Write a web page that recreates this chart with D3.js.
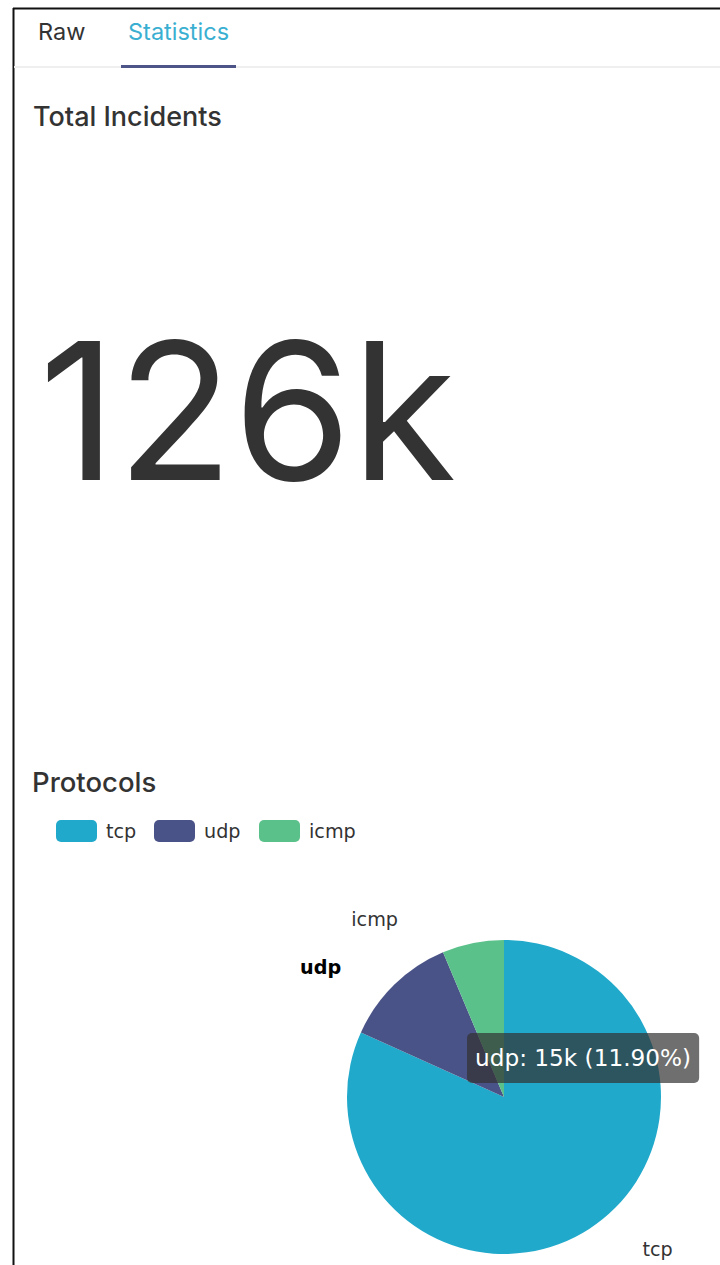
<!DOCTYPE html>
<meta charset="utf-8">
<style>
body { margin: 0; background: #fff; }
svg text { font-family: Inter, "Noto Sans", sans-serif; }
.echart text { font-family: "DejaVu Sans", sans-serif; }
</style>
<svg width="720" height="1265"></svg>
<script src="https://cdnjs.cloudflare.com/ajax/libs/d3/7.8.5/d3.min.js"></script>
<script>
"use strict";

// data
var tabs = ["Raw", "Statistics"];
var activeTab = "Statistics";
var protocols = ["tcp", "udp", "icmp"];
var counts = [103000, 15000, 8000];
var colors = ["#21a9cb", "#4a5387", "#5bc18b"];
var hovered = "udp";

var svg = d3.select("svg"),
    width = +svg.attr("width"),
    height = +svg.attr("height");

var total = d3.sum(counts);
var fmtK = d3.format(".3~s");

// frame
svg.append("line").attr("x1", 13.5).attr("x2", 13.5).attr("y1", 8).attr("y2", height)
  .attr("stroke", "#111").attr("stroke-width", 2);
svg.append("line").attr("x1", 13).attr("x2", width).attr("y1", 8.5).attr("y2", 8.5)
  .attr("stroke", "#111").attr("stroke-width", 2);

// tabs
svg.append("rect").attr("x", 14).attr("y", 66).attr("width", width).attr("height", 2).attr("fill", "#efefef");
var tabX = d3.scalePoint().domain(tabs).range([38, 128]);
svg.selectAll(".tab").data(tabs).enter().append("text")
  .attr("class", "tab")
  .attr("x", function(d) { return tabX(d); })
  .attr("y", 40)
  .attr("font-size", 23.5)
  .attr("fill", function(d) { return d == activeTab ? "#3aafd1" : "#333"; })
  .text(function(d) { return d; });
svg.append("rect").attr("x", tabX(activeTab) - 7).attr("y", 65).attr("width", 115).attr("height", 3)
  .attr("fill", "#4c5488");

// total incidents
svg.append("text").attr("x", 33).attr("y", 126).attr("font-size", 27).attr("font-weight", 500)
  .attr("fill", "#333").text("Total Incidents");
svg.append("text").attr("x", 39).attr("y", 480).attr("font-size", 191)
  .attr("fill", "#333").text(fmtK(total));

// protocols
svg.append("text").attr("x", 32).attr("y", 792).attr("font-size", 27.5).attr("font-weight", 500)
  .attr("fill", "#333").text("Protocols");

var chart = svg.append("g").attr("class", "echart");

// legend
var legendX = [56, 154, 259];
var legend = chart.selectAll(".legend").data(protocols).enter().append("g")
  .attr("class", "legend")
  .attr("transform", function(d, i) { return "translate(" + legendX[i] + ",820)"; });
legend.append("rect").attr("width", 41).attr("height", 22).attr("rx", 5)
  .attr("fill", function(d, i) { return colors[i]; });
legend.append("text").attr("x", 50).attr("y", 11).attr("dy", "0.35em")
  .attr("font-size", 19.2).attr("fill", "#333").text(function(d) { return d; });

// pie
var cx = 504, cy = 1097, r = 157;
var pie = d3.pie().sort(null).value(function(d) { return d; });
var arcs = pie(counts);
var arc = d3.arc().innerRadius(0).outerRadius(r);

var g = chart.append("g").attr("transform", "translate(" + cx + "," + cy + ")");
g.selectAll("path").data(arcs).enter().append("path")
  .attr("d", arc)
  .attr("fill", function(d, i) { return colors[i]; });

// outside labels, placed on an ellipse like echarts
var len = 24, ea = 203, eb = 208;
g.selectAll(".lbl").data(arcs).enter().append("text")
  .attr("class", "lbl")
  .each(function(d, i) {
    var a = (d.startAngle + d.endAngle) / 2;
    var dy = -(r + len) * Math.cos(a);
    var side = Math.sin(a) >= 0 ? 1 : -1;
    var dx = side * ea * Math.sqrt(Math.max(0, 1 - (dy * dy) / (eb * eb)));
    d3.select(this)
      .attr("x", dx - (protocols[i] == hovered ? 4 : 0)).attr("y", dy)
      .attr("text-anchor", side > 0 ? "start" : "end")
      .attr("dominant-baseline", "central")
      .attr("font-size", 19.2)
      .attr("font-weight", protocols[i] == hovered ? "bold" : "normal")
      .attr("fill", protocols[i] == hovered ? "#000" : "#333")
      .text(protocols[i]);
  });

// tooltip
var hi = protocols.indexOf(hovered);
var tipText = hovered + ": " + d3.format("~s")(counts[hi]) + " (" + (counts[hi] / total * 100).toFixed(2) + "%)";
var tip = chart.append("g").attr("transform", "translate(" + (cx - 37) + "," + (cy - 64) + ")");
var tipRect = tip.append("rect").attr("height", 50).attr("rx", 5)
  .attr("fill", "rgba(50,50,50,0.7)");
var tipLabel = tip.append("text").attr("x", 8).attr("y", 25).attr("dy", "0.35em")
  .attr("font-size", 23.2).attr("fill", "#fff").text(tipText);
tipRect.attr("width", tipLabel.node().getComputedTextLength() + 16);
</script>
